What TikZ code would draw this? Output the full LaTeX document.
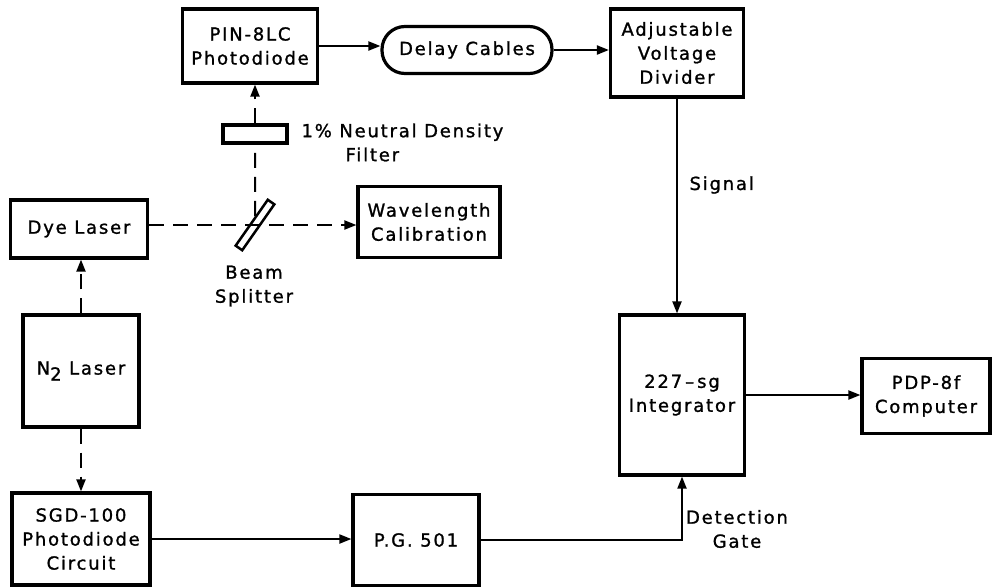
\documentclass[tikz,border=0pt]{standalone}
\usepackage{fontspec}
\setmainfont{DejaVu Sans}[LetterSpace=10.0, FakeBold=1.2]
\usetikzlibrary{arrows.meta, positioning}

\begin{document}
\begin{tikzpicture}[
  x=1pt, y=-1pt,
  >={Triangle[length=12pt,width=9pt]},
  every node/.style={font=\fontsize{18}{24}\selectfont, align=center},
  block/.style={draw, line width=3.2pt, inner sep=2pt},
  beam/.style={line width=2pt, dash pattern=on 15pt off 9pt},
  wire/.style={line width=2pt}
]
\useasboundingbox (0,0) rectangle (992,587);

% optical path
\node[block, minimum width=135pt, minimum height=74pt] (pin) at (250,46) {PIN-8LC\\Photodiode};
\node[block, minimum width=64pt, minimum height=18pt] (filter) at (255,134) {};
\node[draw, line width=2.5pt, minimum width=56pt, minimum height=8pt, inner sep=0pt, rotate=55] (split) at (255,225) {};
\node[block, minimum width=137pt, minimum height=58pt] (dye) at (79,229) {Dye Laser};
\node[block, minimum width=142pt, minimum height=71pt] (wave) at (429,222) {Wavelength\\Calibration};
\node[block, minimum width=116pt, minimum height=112pt] (n2) at (81,371) {N\raisebox{-6pt}{2} Laser};
\node[block, minimum width=138pt, minimum height=92pt] (sgd) at (81,539) {SGD-100\\Photodiode\\Circuit};

% electronics
\node[block, rounded corners=23pt, minimum width=170pt, minimum height=47pt] (delay) at (467,50) {Delay Cables};
\node[block, minimum width=133pt, minimum height=88pt] (divider) at (677,53) {Adjustable\\Voltage\\Divider};
\node[block, minimum width=126pt, minimum height=91pt] (pg) at (416,540) {P.G. 501};
\node[block, minimum width=125pt, minimum height=160pt] (integ) at (682,395) {227\,\textendash\,sg\\Integrator};
\node[block, minimum width=128pt, minimum height=75pt] (pdp) at (926,396) {PDP-8f\\Computer};

% labels
\node[anchor=north west, align=left] (filterlabel) at (298,120) {1\% Neutral Density\\\hspace*{44pt}Filter};
\node (splitlabel) at (254,286) {Beam\\Splitter};
\node[anchor=west] (signallabel) at (686,185) {Signal};
\node (gatelabel) at (737,529) {Detection\\Gate};

% beams
\draw[beam, ->] (dye.east |- split) -- (wave.west |- split);
\draw[beam] (split) -- (filter.south);
\draw[beam, ->] (filter.north) -- (filter.north |- pin.south);
\draw[beam, ->] (n2.north) -- (n2.north |- dye.south);
\draw[beam, ->] (n2.south) -- (sgd.north);

% signals
\draw[wire, ->] (pin.east) -- (pin.east -| delay.west);
\draw[wire, ->] (delay.east) -- (delay.east -| divider.west);
\draw[wire, ->] (divider.south) -- (divider.south |- integ.north);
\draw[wire, ->] (sgd.east) -- (sgd.east -| pg.west);
\draw[wire, ->] (pg.east) -| (integ.south);
\draw[wire, ->] (integ.east) -- (integ.east -| pdp.west);

\end{tikzpicture}
\end{document}
